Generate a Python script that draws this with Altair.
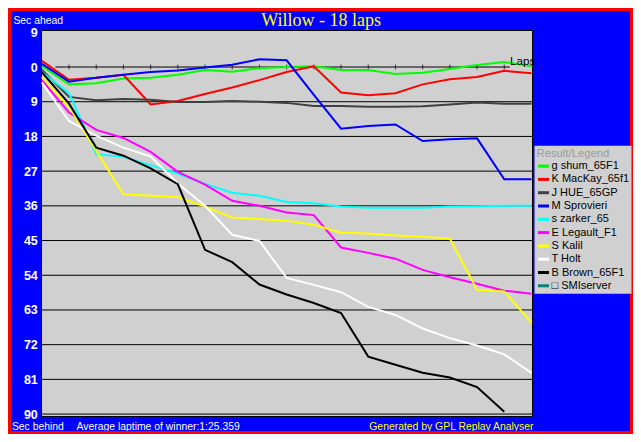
import altair as alt
import pandas as pd

# ---------------- data ----------------
laps = list(range(19))
drivers = ["g shum_65F1", "K MacKay_65f1", "J HUE_65GP", "M Sprovieri", "s zarker_65",
           "E Legault_F1", "S Kalil", "T Holt", "B Brown_65F1", "\u25a1 SMIserver"]
colors = ["#00FF00", "#FF0000", "#404040", "#0000FF", "#00FFFF",
          "#FF00FF", "#FFFF00", "#FFFFFF", "#000000", "#008080"]

shum = [-0.2, 4.5, 4.2, 3.0, 2.8, 2.0, 0.8, 1.2, 0.3, 0.0, -0.2, 0.8, 0.8, 1.8, 1.5, 0.5, -0.5, -1.3, -0.2]
mackay = [-1.6, 3.3, 2.8, 2.0, 9.7, 8.8, 7.0, 5.3, 3.4, 1.3, -0.2, 6.6, 7.3, 6.8, 4.5, 3.2, 2.6, 1.0, 1.6]
hue = [0.7, 7.75, 8.6, 8.3, 8.5, 9.1, 9.1, 8.8, 9.0, 9.3, 10.1, 10.1, 10.3, 10.3, 10.2, 9.7, 9.2, 9.5, 9.5]
sprovieri = [-0.8, 3.8, 2.8, 2.0, 1.3, 0.9, 0.1, -0.6, -2.0, -1.75, 7.2, 16.0, 15.3, 14.9, 19.2, 18.7, 18.5, 29.1, 29.1]
zarker = [1.3, 6.8, 22.6, 23.3, 25.5, 27.6, 30.3, 32.6, 33.4, 35.0, 35.3, 36.2, 36.5, 36.5, 36.5, 36.2, 36.1, 36.0, 36.0]
legault = [3.4, 11.8, 16.3, 18.4, 22.0, 27.2, 30.5, 34.7, 36.0, 37.7, 38.4, 46.8, 48.2, 49.7, 52.6, 54.5, 56.2, 58.0, 58.8]
kalil = [2.6, 10.3, 21.7, 33.0, 33.4, 33.7, 36.2, 39.0, 39.4, 39.9, 40.9, 43.0, 43.2, 43.7, 44.0, 44.5, 57.8, 58.2, 66.3]
holt = [4.0, 14.0, 17.8, 20.9, 23.2, 30.2, 36.0, 43.5, 45.1, 54.7, 56.5, 58.4, 62.2, 64.3, 67.8, 70.3, 72.2, 74.5, 79.3]
brown = [1.3, 9.5, 20.9, 23.0, 26.3, 30.4, 47.4, 50.6, 56.4, 59.0, 61.2, 63.8, 75.1, 77.2, 79.3, 80.5, 83.0, 89.4]

y_ticks = [-9, 0, 9, 18, 27, 36, 45, 54, 63, 72, 81, 90]
grid_values = [9, 18, 27, 36, 45, 54, 63, 72, 81, 90]
tick_laps = list(range(1, 18))

title_text = "Willow - 18 laps"
footer_left = "Sec behind"
footer_mid = "Average laptime of winner:1:25.359"
footer_right = "Generated by GPL Replay Analyser"
laps_label = "Laps"

series = [shum, mackay, hue, sprovieri, zarker, legault, kalil, holt, brown]
rows = []
for name, vals in zip(drivers, series):
    for lap, v in zip(laps, vals):
        rows.append({"lap": lap, "driver": name, "gap": v})
df = pd.DataFrame(rows)

# ---------------- styling ----------------
FONT = "Liberation Sans"
W, H = 491, 386

x_scale = alt.Scale(domain=[-0.03, 18.02], nice=False, zero=False)
y_scale = alt.Scale(domain=[-9.6, 90.5], reverse=True, nice=False, zero=False)

y_axis = alt.Axis(
    values=y_ticks, labelExpr="abs(datum.value)", grid=False, domain=False,
    ticks=False, tickSize=0, labelPadding=3.7, labelColor="white",
    labelFont=FONT, labelFontWeight="bold", labelFontSize=12.5, labelOverlap=False,
    labelBound=False, labelFlush=False,
    title="Sec ahead", titleAngle=0, titleX=-28.1, titleY=-10, titleAlign="left",
    titleBaseline="middle", titleColor="white", titleFont=FONT, titleFontSize=10.4,
    titleFontWeight="normal",
)

grid = alt.Chart(pd.DataFrame({"v": grid_values})).mark_rule(
    color="black", strokeWidth=1
).encode(y=alt.Y("v:Q", scale=y_scale, axis=y_axis))

zero_line = alt.Chart(pd.DataFrame({"v": [0]})).mark_rule(
    color="black", strokeWidth=1
).encode(
    x=alt.XDatum(0.5, scale=x_scale, axis=None),
    x2=alt.X2Datum(17.2),
    y=alt.Y("v:Q", scale=y_scale, axis=y_axis),
)

ticks = alt.Chart(pd.DataFrame({"lap": tick_laps, "v": [0] * len(tick_laps)})).mark_tick(
    orient="vertical", color="black", size=5, thickness=1
).encode(
    x=alt.X("lap:Q", scale=x_scale, axis=None),
    y=alt.Y("v:Q", scale=y_scale, axis=y_axis),
)

lines = alt.Chart(df).mark_line(strokeWidth=2).encode(
    x=alt.X("lap:Q", scale=x_scale, axis=None),
    y=alt.Y("gap:Q", scale=y_scale, axis=y_axis),
    color=alt.Color(
        "driver:N", sort=drivers,
        scale=alt.Scale(domain=drivers, range=colors),
        legend=alt.Legend(
            title="Result/Legend", orient="none", legendX=493.5, legendY=115.8,
            fillColor="#D0D0D0", padding=2, symbolType="stroke", symbolSize=121,
            symbolStrokeWidth=3, symbolOffset=0, labelOffset=1,
            labelFont=FONT, labelFontSize=11, labelColor="black", labelLimit=200,
            titleFont=FONT, titleFontSize=11.3, titleColor="#9A9A9A",
            titleFontWeight="normal", titlePadding=0, rowPadding=0.3,
        ),
    ),
    order=alt.Order("lap:Q"),
)

def text_layer(txt, x, y, color, size, align="left", font=FONT, baseline="middle"):
    return alt.Chart(pd.DataFrame({"t": [txt]})).mark_text(
        align=align, baseline=baseline, color=color, fontSize=size, font=font
    ).encode(text="t:N", x=alt.value(x), y=alt.value(y))

title = text_layer(title_text, 280, -4.3, "#FFFF00", 18, align="center",
                   font="Liberation Serif", baseline="alphabetic")
laps_txt = text_layer(laps_label, 469, 31, "black", 11.7)
f1 = text_layer(footer_left, -29.1, 396.6, "white", 10.4)
f2 = text_layer(footer_mid, 35.5, 396.6, "white", 10.4)
f3 = text_layer(footer_right, 492.5, 396.6, "#FFFF00", 10.4, align="right")

frame = alt.Chart(pd.DataFrame({"a": [0]})).mark_rect(
    fillOpacity=0, stroke="#FF0000", strokeWidth=3
).encode(x=alt.value(-31.5), x2=alt.value(590.5), y=alt.value(-20.5), y2=alt.value(402.5))

chart = alt.layer(
    grid, zero_line, ticks, lines, laps_txt, title, f1, f2, f3, frame
).properties(
    width=W, height=H, background="#0000FF",
    padding={"left": 33, "top": 22, "right": 101, "bottom": 18},
    autosize=alt.AutoSizeParams(type="none"),
).configure_view(fill="#D0D0D0", stroke="black", strokeWidth=1)

chart.save("out.html", embed_options={"renderer": "svg", "actions": False})
